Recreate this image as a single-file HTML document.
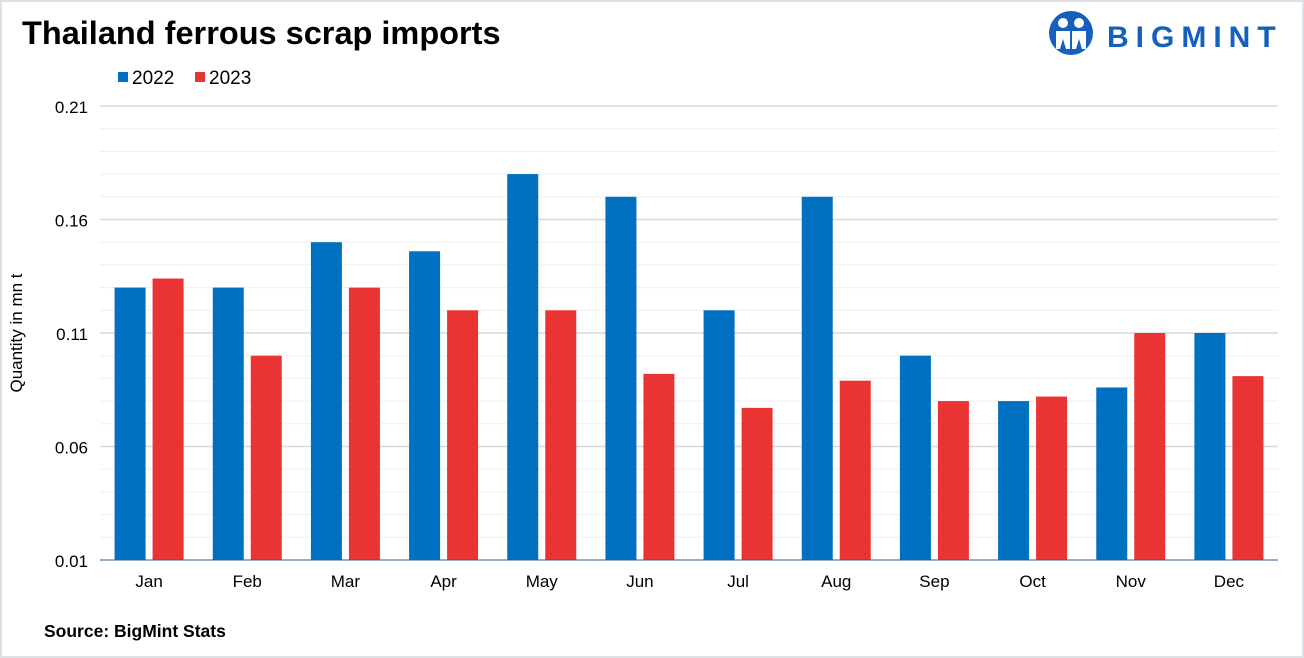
<!DOCTYPE html>
<html><head><meta charset="utf-8"><style>
body{margin:0;background:#fff;}
#wrap{position:relative;width:1304px;height:658px;box-sizing:border-box;border:2px solid #dde1e6;background:#fff;font-family:"Liberation Sans",sans-serif;overflow:hidden;}
</style></head><body>
<div id="wrap">
<svg id="chart" width="1304" height="658" style="position:absolute;left:-2px;top:-2px">
<text x="22" y="44" font-size="32.5" font-weight="bold" fill="#000">Thailand ferrous scrap imports</text>
<g>
<circle cx="1071" cy="33" r="22" fill="#1560bd"/>
<circle cx="1063" cy="23" r="5" fill="#fff"/><circle cx="1079" cy="23" r="5" fill="#fff"/>
<path d="M1056 31 h14 v18 h-4 l-3 -10 l-3 10 h-4z M1072 31 h14 v18 h-4 l-3 -10 l-3 10 h-4z" fill="#fff"/>
<text x="1107" y="47" font-size="30" font-weight="bold" fill="#1560bd" letter-spacing="7">BIGMINT</text>
</g>
<g>
<rect x="118" y="72" width="10" height="10" fill="#0070c0"/>
<text x="132" y="84" font-size="19">2022</text>
<rect x="195" y="72" width="10" height="10" fill="#ea3433"/>
<text x="209" y="84" font-size="19">2023</text>
</g>
<text transform="translate(22,333) rotate(-90)" text-anchor="middle" font-size="17">Quantity in mn t</text>
<text x="44" y="637" font-size="17.5" font-weight="bold">Source: BigMint Stats</text>
<g id="grid"></g><g id="bars"></g><g id="labels"></g>
</svg>
</div>
<script>
const months=["Jan","Feb","Mar","Apr","May","Jun","Jul","Aug","Sep","Oct","Nov","Dec"];
const v2022=[0.130,0.130,0.150,0.146,0.180,0.170,0.120,0.170,0.100,0.080,0.086,0.110];
const v2023=[0.134,0.100,0.130,0.120,0.120,0.092,0.077,0.089,0.080,0.082,0.110,0.091];
const yTicks=[0.01,0.06,0.11,0.16,0.21];
const NS="http://www.w3.org/2000/svg";
const x0=100,x1=1278,yMin=0.01,yMax=0.21,py0=560,py1=106;
const y=v=>py0-(v-yMin)/(yMax-yMin)*(py0-py1);
const band=(x1-x0)/months.length;
const grid=document.getElementById('grid'),bars=document.getElementById('bars'),labels=document.getElementById('labels');
function mk(tag,attrs,parent){const e=document.createElementNS(NS,tag);for(const k in attrs)e.setAttribute(k,attrs[k]);parent.appendChild(e);return e;}
for(let i=1;i<=20;i++){const v=yMin+i*0.01;const major=i%5===0;
 const l=mk('line',{x1:x0,x2:x1,y1:y(v),y2:y(v),stroke:major?'#d9d9d9':'#efefef','stroke-width':major?1.5:1},grid);
 
 }
yTicks.forEach(t=>{const e=mk('text',{x:88,y:y(t)+7,'text-anchor':'end','font-size':17},labels);e.textContent=t.toFixed(2);
 
 });
const bw=31,gap=7;
months.forEach((m,i)=>{const c=x0+band*(i+0.5);
 const b1=mk('rect',{x:c-gap/2-bw,y:y(v2022[i]),width:bw,height:py0-y(v2022[i]),fill:'#0070c0'},bars);
 
 
 const b2=mk('rect',{x:c+gap/2,y:y(v2023[i]),width:bw,height:py0-y(v2023[i]),fill:'#ea3433'},bars);
 
 
 const t=mk('text',{x:c,y:587,'text-anchor':'middle','font-size':17},labels);t.textContent=m;
 
 
});
const ax=mk('line',{x1:x0,x2:x1,y1:py0,y2:py0,stroke:'#3a5a80','stroke-width':1},bars);


</script>
</body></html>
